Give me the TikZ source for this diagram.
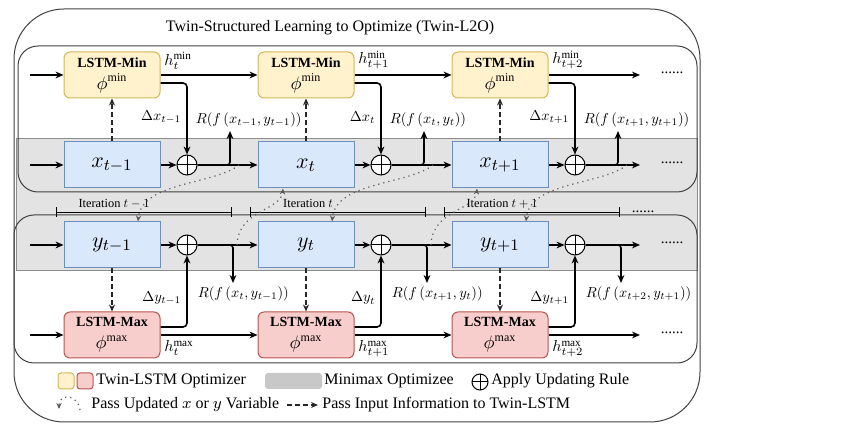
\documentclass[tikz,border=0pt]{standalone}
\usepackage{graphicx}
\usepackage{fontspec}
\setmainfont{Liberation Serif}
\usetikzlibrary{arrows.meta,positioning}

\definecolor{minfill}{HTML}{FFF2CC}
\definecolor{mindraw}{HTML}{D6B656}
\definecolor{maxfill}{HTML}{F8CECC}
\definecolor{maxdraw}{HTML}{B85450}
\definecolor{varfill}{HTML}{DAE8FC}
\definecolor{vardraw}{HTML}{6C8EBF}
\definecolor{bandgrey}{HTML}{E3E3E3}
\definecolor{keygrey}{HTML}{C8C8C8}

% labels: 10pt math scaled down
\newcommand{\smath}[1]{\scalebox{0.8}{$#1$}}
\newcommand{\rmath}[1]{\scalebox{0.72}{$#1$}}

\tikzset{
	conn/.style={line width=0.8pt, -{Stealth[length=4pt,width=3.4pt]}},
	info/.style={line width=0.6pt, dash pattern=on 2.5pt off 1.5pt, black!85, -{Stealth[length=3.5pt,width=3pt]}},
	pass/.style={line width=0.6pt, dotted, black!65, -{Stealth[length=3pt,width=2.6pt]}},
	frame/.style={draw=black!75, line width=0.5pt},
	lstmmin/.style={draw=mindraw, fill=minfill, line width=0.5pt, rounded corners=3pt, minimum width=48pt, minimum height=23pt, inner sep=0pt, align=center, font=\small},
	lstmmax/.style={lstmmin, draw=maxdraw, fill=maxfill},
	varbox/.style={draw=vardraw, fill=varfill, line width=0.5pt, minimum width=48pt, minimum height=23pt, font=\fontsize{10.95}{12}\selectfont},
	oplus/.style={circle, draw, fill=white, line width=0.5pt, minimum size=10pt, inner sep=0pt,
		path picture={\draw[line width=0.5pt] (path picture bounding box.north) -- (path picture bounding box.south) (path picture bounding box.west) -- (path picture bounding box.east);}},
	lab/.style={font=\normalsize, inner sep=1.5pt},
	itlab/.style={anchor=base, inner sep=0pt},
	iterbar/.style={line width=0.4pt, arrows={Bar[width=5pt]-Bar[width=5pt]}},
	keybox/.style={minimum width=8pt, minimum height=8pt, inner sep=0pt, rounded corners=1.5pt, line width=0.5pt},
	keytext/.style={font=\footnotesize, anchor=west, inner sep=1.5pt},
	dots/.style={font=\fontsize{7.5}{8}\selectfont, anchor=base, inner sep=0pt}
}

\begin{document}
\begin{tikzpicture}[x=0.5pt,y=-0.5pt]
	\useasboundingbox (0,0) rectangle (864,432);

	% band and frames
	\fill[bandgrey, draw=black!45, line width=0.4pt] (16,138) rectangle (697,270);
	\draw[frame, rounded corners=10pt] (18,46) rectangle (697,192);
	\draw[frame, rounded corners=10pt] (14,215) rectangle (697,363);
	\draw[frame, rounded corners=25pt] (14,9) rectangle (700,422);
	\node[font=\footnotesize] (title) at (330,28) {Twin-Structured Learning to Optimize (Twin-L2O)};

	% boxes
	\foreach \i/\cx/\tl in {1/112/t-1, 2/306/t, 3/500/t+1} {
		\node[lstmmin] (min\i) at (\cx,75) {{\scriptsize\bfseries LSTM-Min}\\$\phi^{\min}$};
		\node[varbox] (x\i) at (\cx,165) {$x_{\tl}$};
		\node[oplus] (ox\i) at (\cx+75,165) {};
		\node[varbox] (y\i) at (\cx,245) {$y_{\tl}$};
		\node[oplus] (oy\i) at (\cx+75,245) {};
		\node[lstmmax] (max\i) at (\cx,335) {{\scriptsize\bfseries LSTM-Max}\\$\phi^{\max}$};
		\coordinate (rx\i) at (\cx+118,131);
		\coordinate (ry\i) at (\cx+121,283);
		\draw[iterbar] (\cx-56,212) -- (\cx+120,212);
		\node[itlab] (it\i) at (\cx+2,208) {\scalebox{0.62}{Iteration $\tl$}};
	}

	% inputs and loose ends
	\coordinate (inmin) at (30,75);
	\coordinate (inx) at (30,165);
	\coordinate (iny) at (30,245);
	\coordinate (inmax) at (30,335);
	\coordinate (min4) at (640,75);
	\coordinate (x4) at (640,165);
	\coordinate (y4) at (640,245);
	\coordinate (max4) at (640,335);
	\draw[conn] (inmin) -- (min1);
	\draw[conn] (inx) -- (x1);
	\draw[conn] (iny) -- (y1);
	\draw[conn] (inmax) -- (max1);

	% connectors
	\foreach \i/\j/\tl/\tn in {1/2/t-1/t, 2/3/t/t+1, 3/4/t+1/t+2} {
		\draw[conn] (min\i.east) -- (min\j) node[lab, pos=0, above right, yshift=1pt] {\smath{h^{\min}_{\tn}}};
		\draw[conn, rounded corners=2pt] ([yshift=-4pt]min\i.east) -| (ox\i.north) node[lab, pos=0.74, left, xshift=-1pt] {\rmath{\Delta x_{\tl}}};
		\draw[info] (x\i) -- (min\i);
		\draw[conn] (x\i) -- (ox\i);
		\draw[conn] (ox\i) -- (x\j);
		\draw[conn, rounded corners=1.5pt] (ox\i.east) -| (rx\i) node[lab, pos=1, anchor=south west, xshift=-19pt] {\rmath{R(f\,(x_{\tl},y_{\tl}))}};
		\draw[pass] ([xshift=26pt]ox\i.center) .. controls +(-25,20) and +(4,-40) .. ([xshift=13pt]y\i.north);

		\draw[conn] (y\i) -- (oy\i);
		\draw[conn] (oy\i) -- (y\j);
		\draw[conn, rounded corners=1.5pt] (oy\i.east) -| (ry\i) node[lab, pos=1, anchor=north west, xshift=-19.5pt] {\rmath{R(f\,(x_{\tn},y_{\tl}))}};
		\draw[conn, rounded corners=2pt] ([yshift=4pt]max\i.east) -| (oy\i.south) node[lab, pos=0.7, left, xshift=-1pt] {\rmath{\Delta y_{\tl}}};
		\draw[info] (y\i) -- (max\i);
		\draw[conn] (max\i.east) -- (max\j) node[lab, pos=0, below right, yshift=-1pt] {\smath{h^{\max}_{\tn}}};
	}
	\foreach \i/\j in {1/2, 2/3}
		\draw[pass] ([xshift=25pt]oy\i.center) .. controls +(1,-35) and +(-2,22) .. ([xshift=-11.5pt]x\j.south);

	% dots
	\node[dots] (dmin) at (672,74) {......};
	\node[dots] (dx) at (672,164) {......};
	\node[dots] (dit) at (643,213) {......};
	\node[dots] (dy) at (672,244) {......};
	\node[dots] (dmax) at (672,334) {......};

	% legend
	\node[keybox, draw=mindraw, fill=minfill] (kmin) at (66,381) {};
	\node[keybox, draw=maxdraw, fill=maxfill] (kmax) at (85,381) {};
	\node[keytext] (tlstm) at (93,381) {Twin-LSTM Optimizer};
	\node[keybox, fill=keygrey, minimum width=28.5pt] (kband) at (293.5,381) {};
	\node[keytext] (tband) at (321,381) {Minimax Optimizee};
	\node[oplus, minimum size=8pt] (kop) at (480,382) {};
	\node[keytext] (top) at (488,381) {Apply Updating Rule};
	\coordinate (kp1) at (59,409);
	\coordinate (kp2) at (80,410);
	\draw[pass] (kp2) .. controls +(-2,-16) and +(0,-16) .. (kp1);
	\node[keytext] (tpass) at (88,405) {Pass Updated $x$ or $y$ Variable};
	\coordinate (kd1) at (287,405);
	\coordinate (kd2) at (318,405);
	\draw[info] (kd1) -- (kd2);
	\node[keytext] (tinfo) at (319,405) {Pass Input Information to Twin-LSTM};
\end{tikzpicture}
\end{document}
